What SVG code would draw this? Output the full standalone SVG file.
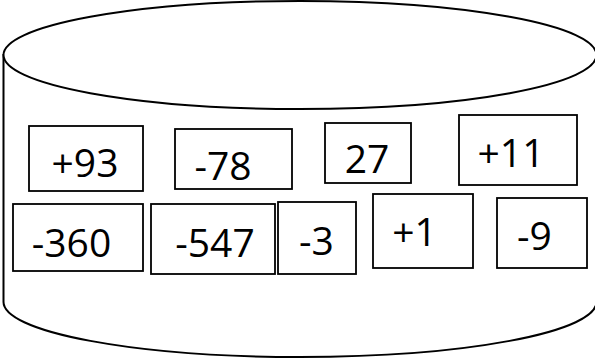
<svg xmlns="http://www.w3.org/2000/svg" width="595" height="360" viewBox="0 0 595 360">
<style>
.cyl{fill:#fff;stroke:#000;stroke-width:2}
.box rect{fill:#fff;stroke:#000;stroke-width:1.8}
.box text{font-family:"Open Sans","Liberation Sans",sans-serif;font-size:39px;fill:#000;text-anchor:middle}
</style>
<g id="cylinder">
<path class="cyl" d="M3.5,55 L3.5,302 A296.5,55 0 0 0 596.5,302 L596.5,55 Z"/>
<ellipse class="cyl" cx="300" cy="55" rx="296.5" ry="54"/>
</g>
<g id="n93" class="box"><rect x="29" y="126" width="114" height="65"/><text x="85" y="177">+93</text></g>
<g id="n78" class="box"><rect x="175" y="129" width="117" height="60"/><text x="223" y="180">-78</text></g>
<g id="n27" class="box"><rect x="325" y="123" width="86" height="60"/><text x="367" y="173">27</text></g>
<g id="n11" class="box"><rect x="459" y="115" width="118" height="70"/><text x="511" y="167">+11</text></g>
<g id="n360" class="box"><rect x="13" y="204" width="130" height="67"/><text x="71.5" y="257">-360</text></g>
<g id="n547" class="box"><rect x="151" y="204" width="124" height="70"/><text x="215" y="257">-547</text></g>
<g id="n3" class="box"><rect x="278" y="202" width="78" height="72"/><text x="316.5" y="255">-3</text></g>
<g id="n1" class="box"><rect x="373" y="194" width="100" height="74"/><text x="414.5" y="246">+1</text></g>
<g id="n9" class="box"><rect x="497" y="198" width="90" height="70"/><text x="534.5" y="250">-9</text></g>
<g id="connectors"/>
</svg>
